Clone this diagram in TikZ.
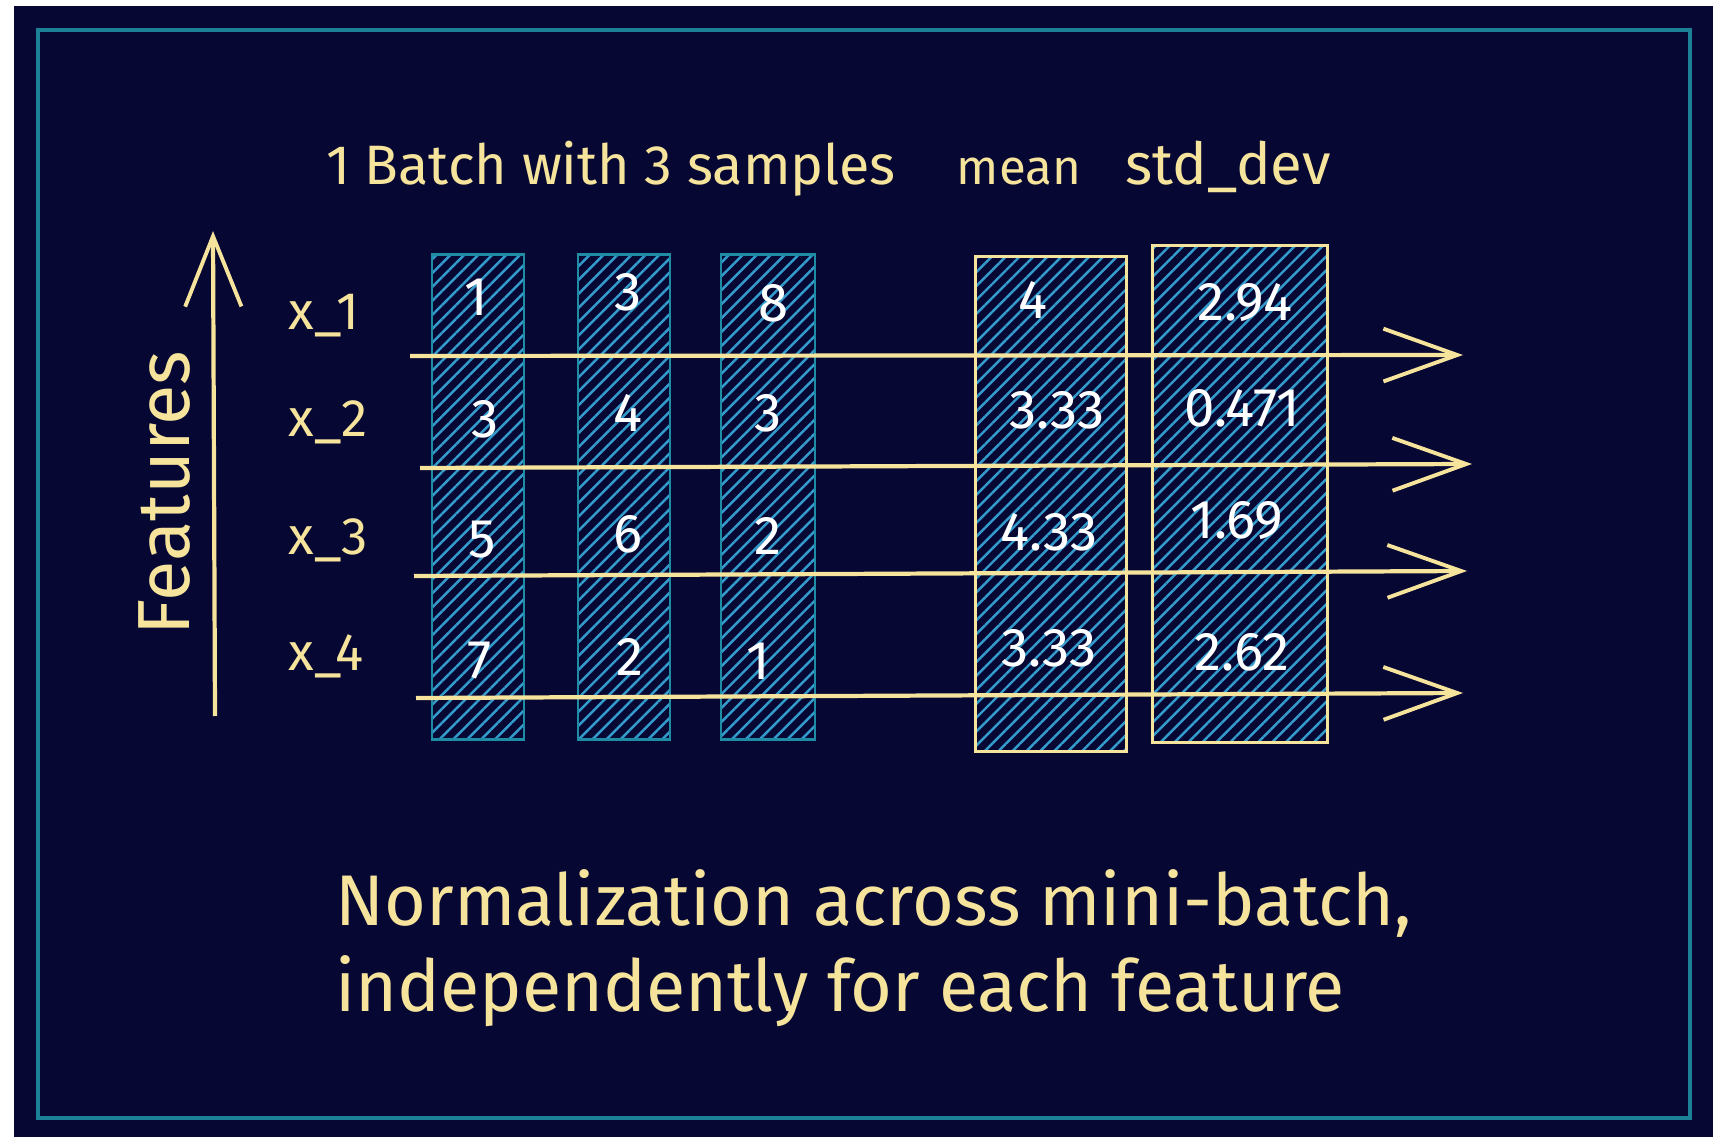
\documentclass[tikz,border=0pt]{standalone}
\usepackage{fontspec}
\setmainfont{Fira Sans}
\usetikzlibrary{arrows.meta,patterns.meta}
\definecolor{bgnavy}{RGB}{7,7,52}
\definecolor{frameteal}{RGB}{28,128,150}
\definecolor{cream}{RGB}{246,228,156}
\definecolor{boxteal}{RGB}{30,140,165}
\definecolor{hatchblue}{RGB}{52,155,205}

\begin{document}
\begin{tikzpicture}[x=0.01cm, y=-0.01cm,
    sample/.style={draw=boxteal, line width=0.8pt, inner sep=0pt, minimum width=0.92cm, minimum height=4.85cm,
      pattern={Lines[angle=45,distance=2.8pt,line width=0.7pt]}, pattern color=hatchblue},
    stat/.style={sample, draw=cream},
    val/.style={text=white, font=\fontsize{15.5}{18}\selectfont},
    lbl/.style={text=cream, font=\fontsize{15}{18}\selectfont},
    big/.style={text=cream, font=\fontsize{20.4}{24}\selectfont},
    flow/.style={draw=cream, line width=1.2pt, -{Straight Barb[length=21pt,width=15pt,line width=1.1pt]}},
  ]
  \fill[white] (0,0) rectangle (1727,1137);
  \fill[bgnavy] (14,6) rectangle (1713,1137);
  \draw[frameteal, line width=1.4pt] (38,30) rectangle (1690,1118);

  % headers
  \node[lbl, anchor=base, font=\fontsize{15.8}{18}\selectfont] (batch) at (611,185) {1 Batch with 3 samples};
  \node[lbl, anchor=base, font=\fontsize{14}{18}\selectfont] (meanhd) at (1019,185) {mean};
  \node[lbl, anchor=base, font=\fontsize{16.5}{18}\selectfont] (stdhd) at (1228,185) {std\_dev};

  % features axis
  \coordinate (fbot) at (215,716);
  \coordinate (ftop) at (213,231);
  \draw[flow, -{Straight Barb[length=20pt,width=16pt,line width=1.1pt]}] (fbot) -- (ftop);
  \node[big, rotate=90, font=\fontsize{21}{24}\selectfont] (feat) at (165,493) {Features};

  \node[lbl, anchor=west] (x1) at (276,316) {x\_1};
  \node[lbl, anchor=west] (x2) at (276,422) {x\_2};
  \node[lbl, anchor=west] (x3) at (276,540) {x\_3};
  \node[lbl, anchor=west] (x4) at (276,656) {x\_4};

  % columns
  \node[sample] (s1) at (478,497) {};
  \node[sample] (s2) at (624,497) {};
  \node[sample, minimum width=0.94cm] (s3) at (768,497) {};
  \node[stat, minimum width=1.51cm, minimum height=4.95cm] (mean) at (1051,504) {};
  \node[stat, minimum width=1.75cm, minimum height=4.97cm] (std) at (1240,494) {};

  % one arrow per feature
  \coordinate (r1s) at (410,356); \coordinate (r1e) at (1463,355);
  \coordinate (r2s) at (420,468); \coordinate (r2e) at (1472,464);
  \coordinate (r3s) at (414,576); \coordinate (r3e) at (1467,571);
  \coordinate (r4s) at (416,698); \coordinate (r4e) at (1463,693);
  \draw[flow] (r1s) -- (r1e);
  \draw[flow] (r2s) -- (r2e);
  \draw[flow] (r3s) -- (r3e);
  \draw[flow] (r4s) -- (r4e);

  % values
  \node[val] (a1) at (476,297) {1};
  \node[val] (a2) at (485,419) {3};
  \node[val] (a3) at (482,540) {5};
  \node[val] (a4) at (480,661) {7};
  \node[val] (b1) at (628,292) {3};
  \node[val] (b2) at (628,413) {4};
  \node[val] (b3) at (628,534) {6};
  \node[val] (b4) at (630,657) {2};
  \node[val] (c1) at (774,303) {8};
  \node[val] (c2) at (768,413) {3};
  \node[val] (c3) at (768,536) {2};
  \node[val] (c4) at (758,661) {1};
  \node[val] (m1) at (1033,300) {4};
  \node[val] (m2) at (1057,410) {3.33};
  \node[val] (m3) at (1049,532) {4.33};
  \node[val] (m4) at (1049,648) {3.33};
  \node[val] (d1) at (1245,303) {2.94};
  \node[val] (d2) at (1242,408) {0.471};
  \node[val] (d3) at (1237,521) {1.69};
  \node[val] (d4) at (1242,652) {2.62};

  % caption
  \node[big, anchor=base west] (cap1) at (323,925) {Normalization across mini-batch,};
  \node[big, anchor=base west] (cap2) at (323,1011) {independently for each feature};
\end{tikzpicture}
\end{document}
